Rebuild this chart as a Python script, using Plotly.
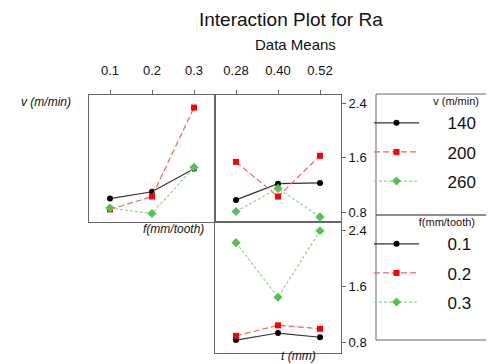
import plotly.graph_objects as go

# ---- data ----
v_levels = ["140", "200", "260"]
f_levels = ["0.1", "0.2", "0.3"]
f_vals = [0.1, 0.2, 0.3]
t_vals = [0.28, 0.40, 0.52]
f_ticktext = ["0.1", "0.2", "0.3"]
t_ticktext = ["0.28", "0.40", "0.52"]
y_ticks = [0.8, 1.6, 2.4]
y_ticktext = ["0.8", "1.6", "2.4"]

# Ra means: v x f (top-left panel)
ra_f_v140 = [1.00, 1.10, 1.44]
ra_f_v200 = [0.84, 1.03, 2.34]
ra_f_v260 = [0.86, 0.78, 1.46]
# Ra means: v x t (top-right panel)
ra_t_v140 = [0.98, 1.22, 1.23]
ra_t_v200 = [1.54, 1.03, 1.63]
ra_t_v260 = [0.81, 1.15, 0.73]
# Ra means: f x t (bottom panel)
ra_t_f01 = [0.84, 0.94, 0.88]
ra_t_f02 = [0.90, 1.05, 1.00]
ra_t_f03 = [2.23, 1.45, 2.40]

W, H = 494, 364
def px(x): return x / W
def py(y): return 1 - y / H

styles = [
    dict(line=dict(color="#333333", width=1.2, dash="solid"),
         marker=dict(color="#000000", symbol="circle", size=6)),
    dict(line=dict(color="#ff5c5c", width=1.2, dash="6px,3px"),
         marker=dict(color="#ff0000", symbol="square", size=6)),
    dict(line=dict(color="#8fd88f", width=1.2, dash="3px,2px"),
         marker=dict(color="#55c055", symbol="diamond", size=7)),
]

PAD = "\u00a0" * 5  # spacing between legend symbol and its label

fig = go.Figure()
v_series_f = [ra_f_v140, ra_f_v200, ra_f_v260]
v_series_t = [ra_t_v140, ra_t_v200, ra_t_v260]
f_series_t = [ra_t_f01, ra_t_f02, ra_t_f03]

for i, name in enumerate(v_levels):
    fig.add_trace(go.Scatter(x=f_vals, y=v_series_f[i], mode="lines+markers", name=PAD + name,
                             xaxis="x", yaxis="y", legend="legend", legendgroup="v" + name,
                             **styles[i]))
for i, name in enumerate(v_levels):
    fig.add_trace(go.Scatter(x=t_vals, y=v_series_t[i], mode="lines+markers", name=name,
                             xaxis="x2", yaxis="y2", showlegend=False, **styles[i]))
for i, name in enumerate(f_levels):
    fig.add_trace(go.Scatter(x=t_vals, y=f_series_t[i], mode="lines+markers", name=PAD + name,
                             xaxis="x3", yaxis="y3", legend="legend2", legendgroup="f" + name,
                             **styles[i]))

axcol = "#666666"
tickfont = dict(family="Liberation Sans", size=13, color="#111111")
yr = [0.655, 2.525]
common = dict(showgrid=False, zeroline=False, showline=True, linecolor=axcol, linewidth=1, mirror=True)

def ann(text, x, y, size, xanchor="center"):
    return dict(text=text, x=px(x), y=py(y - 7), xref="paper", yref="paper",
                xanchor=xanchor, yanchor="middle", showarrow=False, font=dict(size=size))

legfont = dict(family="Liberation Sans", size=17, color="#111111")

fig.update_layout(
    width=W, height=H, margin=dict(l=0, r=0, t=0, b=0),
    paper_bgcolor="white", plot_bgcolor="white",
    font=dict(family="Liberation Sans", color="#111111"),
    xaxis=dict(domain=[px(81), px(207)], range=[0.05, 0.35], side="top", anchor="y",
               tickvals=f_vals, ticktext=f_ticktext, ticks="outside", ticklen=4,
               ticklabelstandoff=10,
               tickcolor=axcol, tickfont=tickfont, **common),
    yaxis=dict(domain=[py(214), py(87)], range=yr, anchor="x", showticklabels=False, **common),
    xaxis2=dict(domain=[px(207), px(333)], range=[0.22, 0.58], side="top", anchor="y2",
                tickvals=t_vals, ticktext=t_ticktext, ticks="outside", ticklen=4,
                ticklabelstandoff=10,
                tickcolor=axcol, tickfont=tickfont, **common),
    yaxis2=dict(domain=[py(214), py(87)], range=yr, anchor="x2", side="right",
                tickvals=y_ticks, ticktext=y_ticktext, ticks="outside", ticklen=4,
                tickcolor=axcol, tickfont=tickfont, **common),
    xaxis3=dict(domain=[px(207), px(333)], range=[0.22, 0.58], anchor="y3",
                showticklabels=False, **common),
    yaxis3=dict(domain=[py(345), py(214)], range=yr, anchor="x3", side="right",
                tickvals=y_ticks, ticktext=y_ticktext, ticks="outside", ticklen=4,
                tickcolor=axcol, tickfont=tickfont, **common),
    legend=dict(x=px(361), y=py(83), xanchor="left", yanchor="top",
                bgcolor="rgba(0,0,0,0)", borderwidth=0, itemwidth=45,
                font=legfont,
                title=dict(text="v (m/min)", side="top right",
                           font=dict(family="Liberation Sans", size=11)),
                tracegroupgap=4),
    legend2=dict(x=px(361), y=py(204), xanchor="left", yanchor="top",
                 bgcolor="rgba(0,0,0,0)", borderwidth=0, itemwidth=45,
                 font=legfont,
                 title=dict(text="f(mm/tooth)", side="top right",
                            font=dict(family="Liberation Sans", size=11)),
                 tracegroupgap=4),
    shapes=[
        dict(type="rect", xref="paper", yref="paper", x0=px(368), x1=px(500), y0=py(207), y1=py(86),
             line=dict(color=axcol, width=1)),
        dict(type="rect", xref="paper", yref="paper", x0=px(368), x1=px(500), y0=py(332), y1=py(207),
             line=dict(color=axcol, width=1)),
    ],
    annotations=[
        ann("Interaction Plot for Ra", 283, 18, 19),
        ann("Data Means", 287, 44, 15),
        ann("<i>v (m/min)</i>", 38, 101, 12),
        ann("<i>f(mm/tooth)</i>", 198, 228, 12, xanchor="right"),
        ann("<i>t (mm)</i>", 290, 355, 12),
    ],
)

fig.write_html("out.html")
